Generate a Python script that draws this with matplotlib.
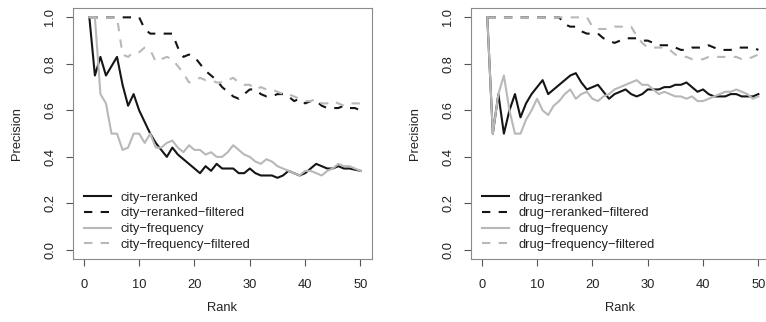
import matplotlib
matplotlib.use("Agg")
import matplotlib.pyplot as plt
import numpy as np

plt.rcParams['font.family'] = ['Liberation Sans', 'DejaVu Sans']

ranks = np.arange(1, 51)

# city panel
city_reranked = [1.0, 0.75, 0.83, 0.75, 0.79, 0.83, 0.71, 0.62, 0.67, 0.60,
                 0.55, 0.50, 0.46, 0.43, 0.40, 0.44, 0.41, 0.39, 0.37, 0.35,
                 0.33, 0.36, 0.34, 0.37, 0.35, 0.35, 0.35, 0.33, 0.33, 0.35,
                 0.33, 0.32, 0.32, 0.32, 0.31, 0.32, 0.34, 0.33, 0.32, 0.33,
                 0.35, 0.37, 0.36, 0.35, 0.35, 0.36, 0.35, 0.35, 0.345, 0.34]
city_reranked_filtered = [1.0, 1.0, 1.0, 1.0, 1.0, 1.0, 1.0, 1.0, 1.0, 1.0,
                          0.95, 0.93, 0.93, 0.93, 0.93, 0.93, 0.87, 0.83, 0.84, 0.83,
                          0.80, 0.77, 0.75, 0.73, 0.70, 0.68, 0.66, 0.65, 0.67, 0.69,
                          0.69, 0.67, 0.66, 0.66, 0.67, 0.67, 0.66, 0.64, 0.65, 0.63,
                          0.64, 0.64, 0.62, 0.61, 0.61, 0.61, 0.62, 0.61, 0.61, 0.60]
city_frequency = [1.0, 1.0, 0.67, 0.63, 0.50, 0.50, 0.43, 0.44, 0.50, 0.50,
                  0.46, 0.50, 0.44, 0.44, 0.46, 0.47, 0.44, 0.42, 0.45, 0.43,
                  0.43, 0.41, 0.42, 0.40, 0.40, 0.42, 0.45, 0.43, 0.41, 0.40,
                  0.38, 0.37, 0.39, 0.38, 0.36, 0.35, 0.34, 0.33, 0.32, 0.34,
                  0.34, 0.33, 0.32, 0.34, 0.35, 0.37, 0.36, 0.36, 0.35, 0.34]
city_frequency_filtered = [1.0, 1.0, 1.0, 1.0, 1.0, 1.0, 0.84, 0.83, 0.85, 0.85,
                           0.87, 0.86, 0.81, 0.82, 0.83, 0.82, 0.79, 0.76, 0.72, 0.73,
                           0.74, 0.73, 0.73, 0.72, 0.72, 0.73, 0.74, 0.72, 0.71, 0.71,
                           0.69, 0.70, 0.69, 0.69, 0.68, 0.67, 0.67, 0.66, 0.65, 0.64,
                           0.64, 0.65, 0.63, 0.63, 0.64, 0.63, 0.62, 0.63, 0.63, 0.63]

# drug panel
drug_reranked = [1.0, 0.50, 0.67, 0.50, 0.60, 0.67, 0.57, 0.63, 0.67, 0.70,
                 0.73, 0.67, 0.69, 0.71, 0.73, 0.75, 0.76, 0.72, 0.69, 0.70,
                 0.71, 0.68, 0.65, 0.67, 0.68, 0.69, 0.67, 0.66, 0.67, 0.69,
                 0.69, 0.69, 0.70, 0.70, 0.71, 0.71, 0.72, 0.70, 0.68, 0.69,
                 0.67, 0.66, 0.66, 0.66, 0.67, 0.67, 0.66, 0.66, 0.66, 0.67]
drug_reranked_filtered = [1.0] * 14 + [
                          0.97, 0.96, 0.96, 0.94, 0.93, 0.93,
                          0.93, 0.91, 0.90, 0.89, 0.90, 0.91, 0.91, 0.91, 0.90, 0.90,
                          0.89, 0.88, 0.88, 0.88, 0.87, 0.86, 0.86, 0.87, 0.87, 0.87,
                          0.88, 0.87, 0.86, 0.86, 0.86, 0.87, 0.87, 0.87, 0.87, 0.86]
drug_frequency = [1.0, 0.50, 0.67, 0.75, 0.60, 0.50, 0.50, 0.56, 0.60, 0.65,
                  0.60, 0.58, 0.62, 0.64, 0.67, 0.69, 0.65, 0.67, 0.68, 0.65,
                  0.64, 0.66, 0.67, 0.69, 0.70, 0.71, 0.72, 0.73, 0.71, 0.71,
                  0.69, 0.67, 0.68, 0.67, 0.66, 0.66, 0.65, 0.66, 0.64, 0.64,
                  0.65, 0.66, 0.67, 0.68, 0.68, 0.69, 0.68, 0.67, 0.65, 0.66]
drug_frequency_filtered = [1.0] * 19 + [
                           0.96,
                           0.95, 0.95, 0.95, 0.96, 0.96, 0.96, 0.96, 0.92, 0.89, 0.87,
                           0.87, 0.87, 0.87, 0.86, 0.84, 0.83, 0.83, 0.82, 0.82, 0.82,
                           0.83, 0.83, 0.83, 0.83, 0.83, 0.83, 0.82, 0.82, 0.83, 0.84]

BLACK = '#151515'
GRAY = '#b8b8b8'
TXT = '#222222'
FS = 9.3


def panel(ax, series, labels):
    styles = [(BLACK, '-'), (BLACK, '--'), (GRAY, '-'), (GRAY, '--')]
    for ys, lab, (c, ls) in zip(series, labels, styles):
        line, = ax.plot(ranks, ys, color=c, lw=1.5, label=lab)
        if ls == '--':
            line.set_dashes((4, 4))
    ax.set_xlim(-2, 52)
    ax.set_ylim(-0.04, 1.04)
    ax.set_xticks(np.arange(0, 51, 10))
    ax.set_yticks(np.arange(0, 1.01, 0.2))
    ax.set_yticklabels(['0.0', '0.2', '0.4', '0.6', '0.8', '1.0'],
                       rotation=90, va='center')
    ax.tick_params(direction='out', length=5, width=0.8, color='#555555',
                   labelsize=FS, labelcolor=TXT)
    ax.tick_params(axis='x', pad=9)
    ax.tick_params(axis='y', pad=7)
    for s in ax.spines.values():
        s.set_color('#8a8a8a')
        s.set_linewidth(0.8)
    ax.set_xlabel('Rank', fontsize=FS, color=TXT, labelpad=8)
    ax.set_ylabel('Precision', fontsize=FS, color=TXT, labelpad=15)
    ax.legend(loc='lower left', bbox_to_anchor=(0.01, 0.0), frameon=False,
              fontsize=FS, handlelength=2.1, labelspacing=0.28,
              handletextpad=0.75, borderpad=0.15, labelcolor=TXT)


fig = plt.figure(figsize=(7.66, 3.22), dpi=100)
ax1 = fig.add_axes([0.095, 0.195, 0.390, 0.780])
ax2 = fig.add_axes([0.6145, 0.195, 0.390, 0.780])

panel(ax1, [city_reranked, city_reranked_filtered, city_frequency, city_frequency_filtered],
      ['city\u2212reranked', 'city\u2212reranked\u2212filtered',
       'city\u2212frequency', 'city\u2212frequency\u2212filtered'])
panel(ax2, [drug_reranked, drug_reranked_filtered, drug_frequency, drug_frequency_filtered],
      ['drug\u2212reranked', 'drug\u2212reranked\u2212filtered',
       'drug\u2212frequency', 'drug\u2212frequency\u2212filtered'])

fig.savefig('out.png', dpi=100)
